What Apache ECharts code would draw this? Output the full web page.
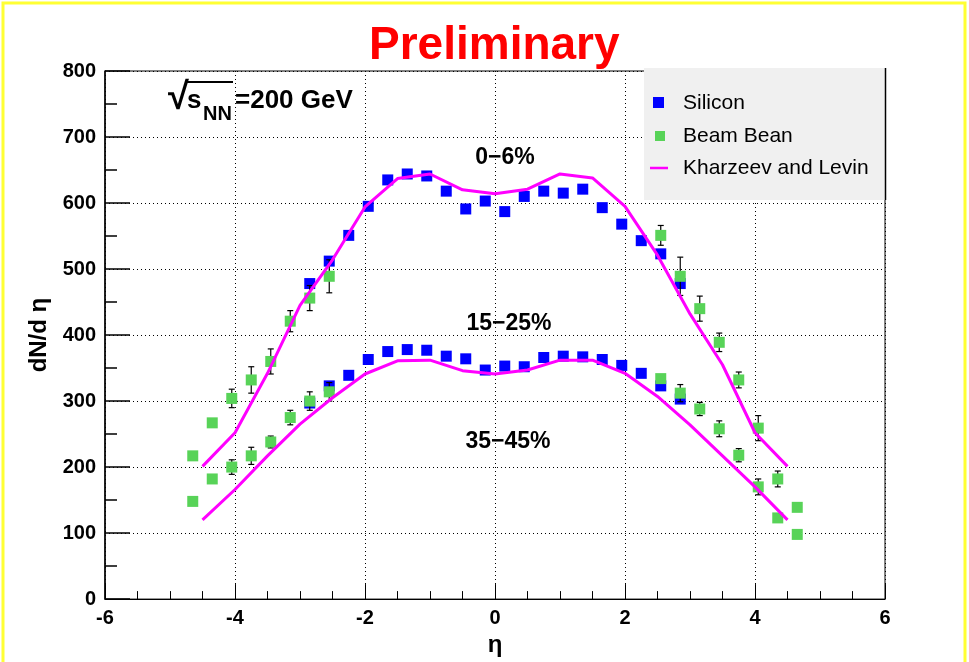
<!DOCTYPE html>
<html>
<head>
<meta charset="utf-8">
<script src="https://cdn.jsdelivr.net/npm/echarts@6/dist/echarts.min.js"></script>
<style>
  html, body { margin: 0; padding: 0; background: #ffffff; }
  #chart { width: 969px; height: 662px; }
</style>
</head>
<body>
<div id="chart"></div>
<script>
// Pseudorapidity bin centres
const etaSilicon = [-2.85, -2.55, -2.25, -1.95, -1.65, -1.35, -1.05, -0.75, -0.45, -0.15,
                    0.15, 0.45, 0.75, 1.05, 1.35, 1.65, 1.95, 2.25, 2.55, 2.85];
const etaBeam = [-4.65, -4.35, -4.05, -3.75, -3.45, -3.15, -2.85, -2.55,
                 2.55, 2.85, 3.15, 3.45, 3.75, 4.05, 4.35, 4.65];
const etaTheory = [-4.5, -4.0, -3.5, -3.0, -2.5, -2.0, -1.5, -1.0, -0.5, 0,
                   0.5, 1.0, 1.5, 2.0, 2.5, 3.0, 3.5, 4.0, 4.5];

// Silicon detector dN/deta
const siliconCentral = [478, 512, 551, 595, 635, 644, 641, 618, 591, 603,
                        587, 610, 618, 615, 621, 593, 568, 543, 523, 478];
const siliconMid = [297, 323, 339, 363, 375, 378, 377, 368, 364, 347,
                    353, 352, 366, 368, 367, 363, 354, 342, 323, 303];

// Beam-beam counter dN/deta and errors
const beamCentral = [217, 267, 304, 332, 360, 421, 456, 489,
                     551, 489, 440, 389, 332, 259, 182, 139];
const beamCentralErr = [4, 4, 14, 20, 19, 16, 19, 25,
                        15, 29, 19, 14, 12, 19, 12, 4];
const beamMid = [148, 182, 200, 217, 238, 275, 300, 314,
                 334, 312, 288, 258, 218, 170, 123, 98];
const beamMidErr = [4, 4, 11, 13, 9, 11, 14, 14,
                    4, 13, 10, 12, 10, 12, 4, 4];

// Kharzeev-Levin saturation model
const theoryCentral = [201, 252, 342, 445, 514, 594, 637, 644, 620, 614,
                       621, 644, 638, 595, 521, 432, 355, 252, 201];
const theoryMid = [120, 166, 217, 265, 305, 341, 361, 362, 346, 341,
                   347, 362, 362, 342, 307, 264, 217, 170, 120];

const xTicks = [-6, 6, 2];      // min, max, interval
const yTicks = [0, 800, 100];   // min, max, interval

const centralityLabels = ['0−6%', '15−25%', '35−45%'];
const legendNames = ['Silicon', 'Beam Bean', 'Kharzeev and Levin'];

const BLUE = '#0000ff';
const GREEN = '#58d358';
const MAGENTA = '#ff00ff';
const FONT = '"Liberation Sans", Arial, Helvetica, sans-serif';

function pairs(xs, ys) { return xs.map((x, i) => [x, ys[i]]); }
function triples(xs, ys, es) { return xs.map((x, i) => [x, ys[i], es[i]]); }

function errorBars(params, api) {
  const x = api.value(0), y = api.value(1), e = api.value(2);
  const top = api.coord([x, y + e]);
  const bot = api.coord([x, y - e]);
  const cap = 3;
  const style = { stroke: '#000', lineWidth: 1.2 };
  return {
    type: 'group',
    children: [
      { type: 'line', shape: { x1: top[0], y1: top[1], x2: bot[0], y2: bot[1] }, style },
      { type: 'line', shape: { x1: top[0] - cap, y1: top[1], x2: top[0] + cap, y2: top[1] }, style },
      { type: 'line', shape: { x1: bot[0] - cap, y1: bot[1], x2: bot[0] + cap, y2: bot[1] }, style }
    ]
  };
}

const chart = echarts.init(document.getElementById('chart'), null, { renderer: 'canvas' });

const markerStyle = (c) => ({ color: c, opacity: 1 });

const option = {
  backgroundColor: '#ffffff',
  animation: false,
  title: {
    text: 'Preliminary',
    left: 364,
    top: 18,
    textStyle: { color: '#ff0000', fontFamily: FONT, fontWeight: 'bold', fontSize: 46 }
  },
  grid: {
    left: 105, right: 84, top: 71, bottom: 61,
    show: true, borderColor: '#000', borderWidth: 1, backgroundColor: 'transparent'
  },
  xAxis: {
    type: 'value',
    min: xTicks[0], max: xTicks[1], interval: xTicks[2],
    name: 'η',
    nameLocation: 'middle',
    nameGap: 24,
    nameTextStyle: { color: '#000', fontFamily: FONT, fontWeight: 'bold', fontSize: 24 },
    axisLine: { show: true, onZero: false, lineStyle: { color: '#000', width: 1 } },
    axisTick: { show: true, inside: true, length: 15, lineStyle: { color: '#000' } },
    minorTick: { show: true, splitNumber: 4, length: 8, lineStyle: { color: '#000' } },
    axisLabel: { color: '#000', fontFamily: FONT, fontWeight: 'bold', fontSize: 20, margin: 9 },
    splitLine: { show: true, lineStyle: { color: '#000', type: [1, 3], width: 1 } }
  },
  yAxis: {
    type: 'value',
    min: yTicks[0], max: yTicks[1], interval: yTicks[2],
    name: 'dN/d η',
    nameLocation: 'middle',
    nameGap: 52,
    nameRotate: 90,
    nameTextStyle: { color: '#000', fontFamily: FONT, fontWeight: 'bold', fontSize: 24 },
    axisLine: { show: true, onZero: false, lineStyle: { color: '#000', width: 1.5 } },
    axisTick: { show: true, inside: true, length: 25, lineStyle: { color: '#000', width: 1.5 } },
    minorTick: { show: true, splitNumber: 2, length: 12, lineStyle: { color: '#000', width: 1.5 } },
    axisLabel: { color: '#000', fontFamily: FONT, fontWeight: 'bold', fontSize: 20, margin: 9 },
    splitLine: { show: true, lineStyle: { color: '#000', type: [1, 3], width: 1 } }
  },
  series: [
    {
      name: legendNames[0], type: 'scatter', symbol: 'rect', symbolSize: 11,
      itemStyle: markerStyle(BLUE), data: pairs(etaSilicon, siliconCentral), z: 2
    },
    {
      name: legendNames[0], type: 'scatter', symbol: 'rect', symbolSize: 11,
      itemStyle: markerStyle(BLUE), data: pairs(etaSilicon, siliconMid), z: 2
    },
    {
      type: 'custom', renderItem: errorBars,
      data: triples(etaBeam, beamCentral, beamCentralErr), z: 3
    },
    {
      type: 'custom', renderItem: errorBars,
      data: triples(etaBeam, beamMid, beamMidErr), z: 3
    },
    {
      name: legendNames[1], type: 'scatter', symbol: 'rect', symbolSize: 11,
      itemStyle: markerStyle(GREEN), data: pairs(etaBeam, beamCentral), z: 4
    },
    {
      name: legendNames[1], type: 'scatter', symbol: 'rect', symbolSize: 11,
      itemStyle: markerStyle(GREEN), data: pairs(etaBeam, beamMid), z: 4
    },
    {
      name: legendNames[2], type: 'line', showSymbol: false,
      lineStyle: { color: MAGENTA, width: 3 }, data: pairs(etaTheory, theoryCentral), z: 5
    },
    {
      name: legendNames[2], type: 'line', showSymbol: false,
      lineStyle: { color: MAGENTA, width: 3 }, data: pairs(etaTheory, theoryMid), z: 5
    }
  ],
  graphic: [
    // page border
    {
      type: 'polyline', z: 100,
      shape: { points: [[3, 662], [3, 3], [965, 3], [965, 662]] },
      style: { stroke: '#ffff33', lineWidth: 3, fill: null }
    },
    // collision energy label
    {
      type: 'text', z: 100, left: 168, top: 80,
      style: { text: '√', font: 'bold 38px ' + FONT, fill: '#000' }
    },
    {
      type: 'line', z: 100,
      shape: { x1: 186, y1: 82, x2: 233, y2: 82 },
      style: { stroke: '#000', lineWidth: 2 }
    },
    {
      type: 'text', z: 100, left: 187, top: 88,
      style: { text: 's', font: 'bold 26px ' + FONT, fill: '#000' }
    },
    {
      type: 'text', z: 100, left: 203, top: 104,
      style: { text: 'NN', font: 'bold 20px ' + FONT, fill: '#000' }
    },
    {
      type: 'text', z: 100, left: 235, top: 88,
      style: { text: '=200 GeV', font: 'bold 26px ' + FONT, fill: '#000' }
    },
    // centrality labels
    {
      type: 'text', z: 100, x: 505, y: 158,
      style: { text: centralityLabels[0], font: 'bold 23px ' + FONT, fill: '#000', align: 'center', verticalAlign: 'middle' }
    },
    {
      type: 'text', z: 100, x: 509, y: 324,
      style: { text: centralityLabels[1], font: 'bold 23px ' + FONT, fill: '#000', align: 'center', verticalAlign: 'middle' }
    },
    {
      type: 'text', z: 100, x: 508, y: 442,
      style: { text: centralityLabels[2], font: 'bold 23px ' + FONT, fill: '#000', align: 'center', verticalAlign: 'middle' }
    },
    // legend box
    {
      type: 'rect', z: 100,
      shape: { x: 644, y: 68, width: 241, height: 132 },
      style: { fill: '#f0f0f0', stroke: null }
    },
    {
      type: 'line', z: 101,
      shape: { x1: 885.5, y1: 68, x2: 885.5, y2: 200 },
      style: { stroke: '#000', lineWidth: 1.5 }
    },
    {
      type: 'rect', z: 101,
      shape: { x: 653, y: 97, width: 11, height: 11 },
      style: { fill: BLUE }
    },
    {
      type: 'text', z: 101, x: 683, y: 103,
      style: { text: legendNames[0], font: '21px ' + FONT, fill: '#000', verticalAlign: 'middle' }
    },
    {
      type: 'rect', z: 101,
      shape: { x: 655, y: 131, width: 10, height: 10 },
      style: { fill: GREEN }
    },
    {
      type: 'text', z: 101, x: 683, y: 136,
      style: { text: legendNames[1], font: '21px ' + FONT, fill: '#000', verticalAlign: 'middle' }
    },
    {
      type: 'line', z: 101,
      shape: { x1: 650, y1: 168, x2: 668, y2: 168 },
      style: { stroke: MAGENTA, lineWidth: 2.5 }
    },
    {
      type: 'text', z: 101, x: 683, y: 168,
      style: { text: legendNames[2], font: '21px ' + FONT, fill: '#000', verticalAlign: 'middle' }
    }
  ]
};

chart.setOption(option);
</script>
</body>
</html>
